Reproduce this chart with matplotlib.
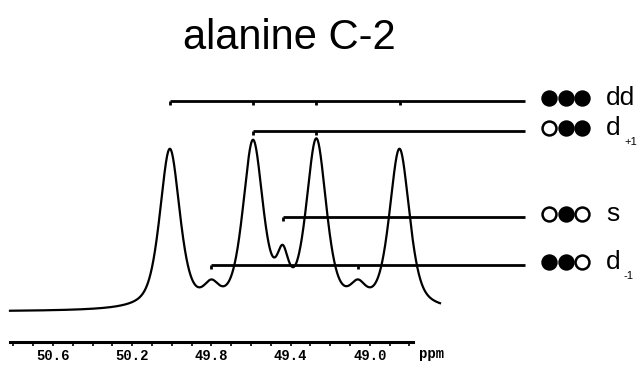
import numpy as np
import matplotlib
matplotlib.use("Agg")
import matplotlib.pyplot as plt
from matplotlib.ticker import FixedLocator

# peak list (ppm, height, full width at half height in ppm)
peak_ppm = [50.01, 49.59, 49.27, 48.85, 49.44, 49.80, 49.06]
peak_height = [94, 97, 98, 94, 24, 10, 10]
peak_width = [0.12, 0.12, 0.12, 0.12, 0.07, 0.09, 0.09]

# multiplets: peaks of each component, circle pattern (1 = filled), label
multiplet_peaks = [[50.01, 49.59, 49.27, 48.85], [49.59, 49.27], [49.44], [49.80, 49.06]]
multiplet_dots = [[1, 1, 1], [0, 1, 1], [0, 1, 0], [1, 1, 0]]
label_main = ["dd", "d", "s", "d"]
label_sub = ["", "+1", "", "-1"]

tick_values = [50.6, 50.2, 49.8, 49.4, 49.0]
tick_labels = ["50.6", "50.2", "49.8", "49.4", "49.0"]

# pixel helpers for layout only (figure is 643 x 369 px)
def ypx(p):
    return (310 - p) / 1.7

def xpx(p):
    return 50.6 - (p - 53) / 198

fig = plt.figure(figsize=(6.43, 3.69), dpi=100)
ax = fig.add_axes([0, 0, 1, 1])
ax.set_xlim(xpx(0), xpx(643))
ax.set_ylim(ypx(369), ypx(0))

# spectrum from the peak list (pseudo-Voigt line shapes)
x = np.linspace(xpx(10), xpx(440), 2000)
y = np.zeros_like(x)
eta = 0.55
for c, h, w in zip(peak_ppm, peak_height, peak_width):
    d = (x - c) / (w / 2)
    y += h * ((1 - eta) * np.exp(-np.log(2) * d ** 2) + eta / (1 + d ** 2))
ax.plot(x, y - 1, color="black", lw=1.6)

# multiplet brackets, dot symbols and labels
levels = [ypx(101), ypx(131), ypx(217), ypx(265)]
dot_step = 16.5 / 198
for lev, pk, dots, m, s in zip(levels, multiplet_peaks, multiplet_dots, label_main, label_sub):
    ax.plot([max(pk), xpx(525)], [lev, lev], color="black", lw=2, solid_capstyle="butt")
    for p in pk:
        ax.plot([p, p], [lev, lev - 2.6], color="black", lw=2, solid_capstyle="butt")
    for i, f in enumerate(dots):
        ax.plot(xpx(549) - i * dot_step, lev + 1.5, "o", ms=10,
                mfc="black" if f else "white", mec="black", mew=1.8)
    ax.text(xpx(606), lev + 1.5, m, fontsize=19, family="Liberation Sans",
            ha="left", va="center")
    if s:
        ax.text(xpx(624), lev - 6.5, s, fontsize=8, family="Liberation Sans",
                ha="left", va="center")

# ppm ruler
for side in ["top", "right", "left"]:
    ax.spines[side].set_visible(False)
ax.spines["bottom"].set_position(("data", ypx(342)))
ax.spines["bottom"].set_bounds(xpx(413), xpx(10))
ax.spines["bottom"].set_linewidth(2.2)
ax.xaxis.set_major_locator(FixedLocator(tick_values))
ax.xaxis.set_minor_locator(FixedLocator(np.round(np.arange(48.8, 50.85, 0.1), 1)))
ax.set_xticklabels(tick_labels, family="Liberation Mono", fontsize=10, fontweight="bold")
ax.tick_params(axis="x", which="both", direction="out", length=3, width=1.2, pad=2)
ax.set_yticks([])
ax.text(xpx(432), ypx(354), "ppm", family="Liberation Mono", fontsize=10, fontweight="bold",
        ha="center", va="center")

ax.text(xpx(289), ypx(49), "alanine C-2", fontsize=30, family="Liberation Sans",
        ha="center", va="baseline")

fig.savefig("out.png", dpi=100)
